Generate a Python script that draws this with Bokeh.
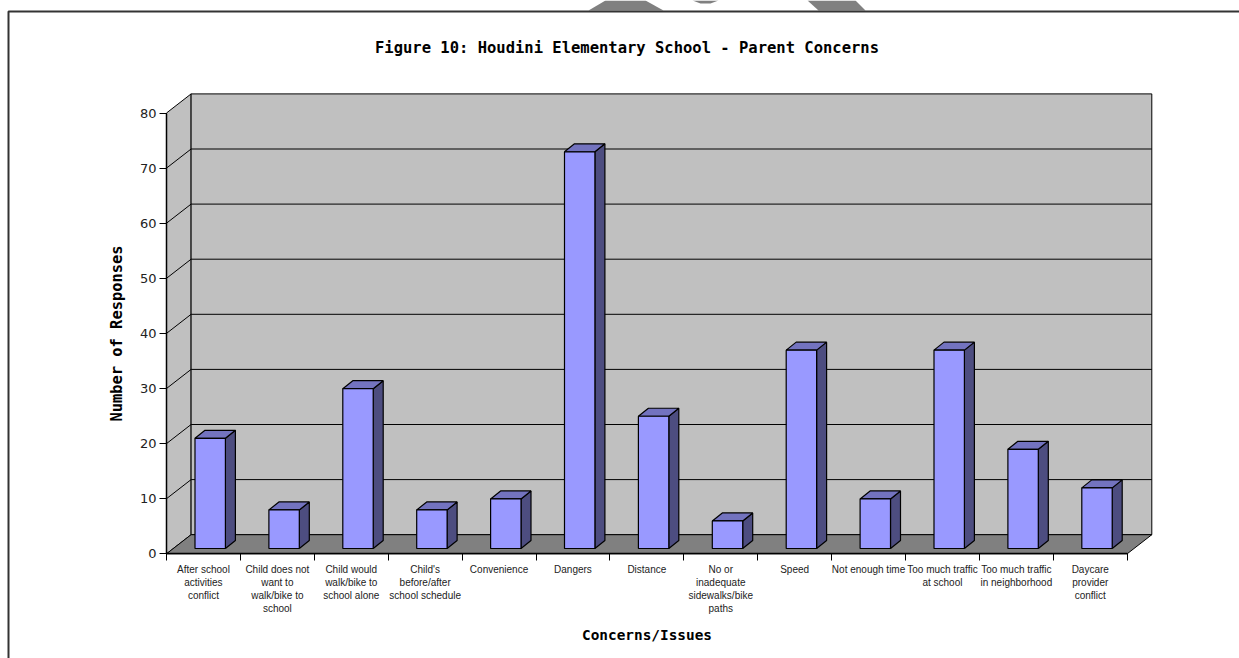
from bokeh.embed import file_html
from bokeh.resources import INLINE
from bokeh.plotting import figure
from bokeh.models import Range1d, LinearAxis, FixedTicker, Label

title_text = "Figure 10: Houdini Elementary School - Parent Concerns"
x_title = "Concerns/Issues"
y_title = "Number of Responses"
categories = [
    "After school\nactivities\nconflict",
    "Child does not\nwant to\nwalk/bike to\nschool",
    "Child would\nwalk/bike to\nschool alone",
    "Child's\nbefore/after\nschool schedule",
    "Convenience",
    "Dangers",
    "Distance",
    "No or\ninadequate\nsidewalks/bike\npaths",
    "Speed",
    "Not enough time",
    "Too much traffic\nat school",
    "Too much traffic\nin neighborhood",
    "Daycare\nprovider\nconflict",
]
values = [20, 7, 29, 7, 9, 72, 24, 5, 36, 9, 36, 18, 11]
y_ticks = [0, 10, 20, 30, 40, 50, 60, 70, 80]

W, H = 1239, 658
PX_X, PX_Y = 73.9, 5.51       # pixels per category, pixels per response
ORG_X, ORG_Y = 166, 553.3     # where (0,0) lies on the canvas

n = len(values)
ymax = y_ticks[-1]
DX, DY = 24.6 / PX_X, 19.1 / PX_Y       # depth of the chart box
BL, BW = 28.5 / PX_X, 30.4 / PX_X       # bar's left inset and width
BDX, BDY = 10 / PX_X, 8 / PX_Y          # depth of a bar
LIFT = 5.3 / PX_Y                       # bar's base above front edge
HEAD = "DejaVu Sans Mono"


def px(x):
    return (x - ORG_X) / PX_X


def py(y):
    return (ORG_Y - y) / PX_Y


p = figure(
    width=W, height=H, output_backend="svg", toolbar_location=None,
    x_range=Range1d(-ORG_X / PX_X, (W - ORG_X) / PX_X),
    y_range=Range1d(-(H - ORG_Y) / PX_Y, ORG_Y / PX_Y),
    x_axis_location=None, y_axis_location=None,
    min_border=0, min_border_left=0, min_border_right=0,
    min_border_top=0, min_border_bottom=0, outline_line_color=None,
    background_fill_color="white", border_fill_color="white",
)
p.grid.visible = False

# page frame and the background shape that shows above it
p.patch([px(605), px(645), px(663), px(588)], [py(0), py(0), py(10), py(10)], fill_color="#808080", line_color=None)
p.patch([px(692), px(718), px(710), px(700)], [py(0), py(0), py(3), py(3)], fill_color="#808080", line_color=None)
p.patch([px(807), px(855), px(865), px(818)], [py(0), py(0), py(10), py(10)], fill_color="#808080", line_color=None)
p.line([px(8), px(8), px(1239)], [py(658), py(11), py(11)], line_color="#333333", line_width=2)

# chart box
p.patch([0, DX, DX, 0], [0, DY, ymax + DY, ymax], fill_color="#C0C0C0", line_color="black", line_width=1)
p.patch([DX, n + DX, n + DX, DX], [DY, DY, ymax + DY, ymax + DY], fill_color="#C0C0C0", line_color="black", line_width=1)
p.patch([0, n, n + DX, DX], [0, 0, DY, DY], fill_color="#808080", line_color="black", line_width=1)
for t in y_ticks[1:-1]:
    p.line([0, DX, n + DX], [t, t + DY, t + DY], line_color="black", line_width=1)

# bars
for i, v in enumerate(values):
    l, r, b, t = i + BL, i + BL + BW, LIFT, LIFT + v
    p.patch([r, r + BDX, r + BDX, r], [b, b + BDY, t + BDY, t], fill_color="#4D4D80", line_color="black", line_width=1.2)
    p.patch([l, r, r + BDX, l + BDX], [t, t, t + BDY, t + BDY], fill_color="#7373BF", line_color="black", line_width=1.2)
    p.patch([l, r, r, l], [b, b, t, t], fill_color="#9999FF", line_color="black", line_width=1.2)

# axes inside the frame
centers = [i + 0.5 for i in range(n)]
xa = LinearAxis(
    fixed_location=0, bounds=(0, n),
    ticker=FixedTicker(ticks=centers, minor_ticks=list(range(n + 1))),
    major_label_overrides={c: t for c, t in zip(centers, categories)},
    major_tick_out=0, major_tick_in=0, minor_tick_out=7, minor_tick_in=0,
    major_label_standoff=3, major_label_text_font="Liberation Sans",
    major_label_text_font_size="10px", major_label_text_color="#222222",
    major_label_orientation="horizontal",
    axis_line_color="black", axis_line_width=1.5, minor_tick_line_color="black",
    axis_label=x_title, axis_label_text_font=HEAD, axis_label_text_font_style="bold",
    axis_label_text_font_size="14.4px", axis_label_text_color="black", axis_label_standoff=10,
)
ya = LinearAxis(
    fixed_location=0, bounds=(0, ymax),
    ticker=FixedTicker(ticks=y_ticks, minor_ticks=[]),
    major_tick_out=7, major_tick_in=0, major_label_standoff=3,
    major_label_text_font="DejaVu Sans", major_label_text_font_size="13px",
    major_label_text_color="#222222",
    axis_line_color="black", axis_line_width=1.5, major_tick_line_color="black",
    axis_label=y_title, axis_label_text_font=HEAD, axis_label_text_font_style="bold",
    axis_label_text_font_size="15.4px", axis_label_text_color="black", axis_label_standoff=11,
)
p.add_layout(xa, "below")
p.add_layout(ya, "left")

p.add_layout(Label(
    x=px(626.5), y=py(47.5), text=title_text, text_align="center", text_baseline="middle",
    text_font=HEAD, text_font_style="bold", text_font_size="15.5px", text_color="black",
))

open("out.html", "w").write(file_html(p, INLINE))
